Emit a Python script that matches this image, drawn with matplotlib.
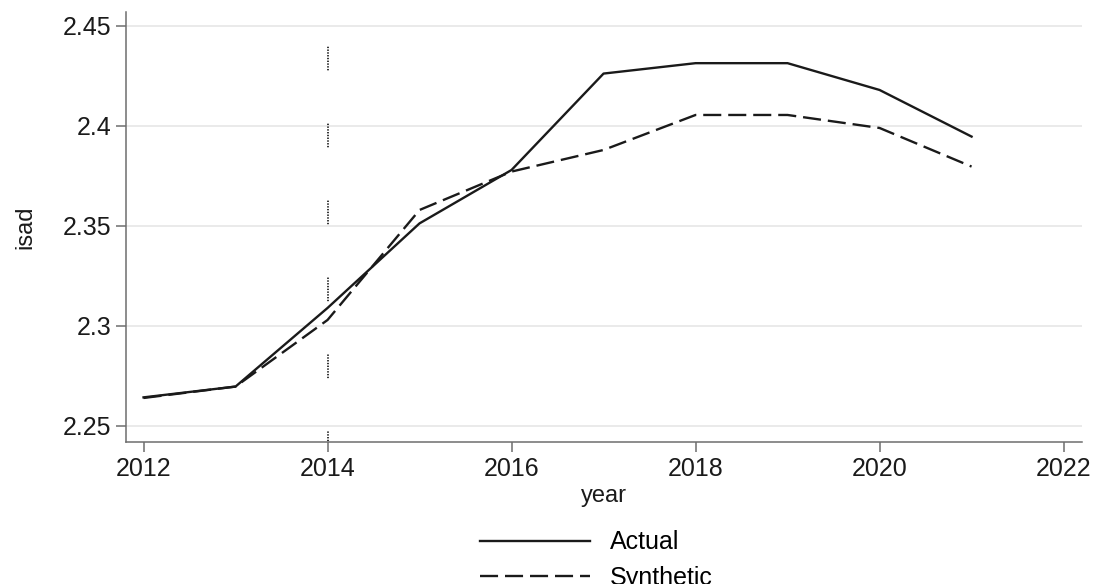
import matplotlib
matplotlib.use('Agg')
import matplotlib.pyplot as plt

plt.rcParams['font.family'] = ['Liberation Sans', 'DejaVu Sans']
plt.rcParams['lines.scale_dashes'] = False

# datos del panel
anios = [2012, 2013, 2014, 2015, 2016, 2017, 2018, 2019, 2020, 2021]
actual = [2.2643, 2.2697, 2.3090, 2.3513, 2.3780, 2.4262, 2.4314, 2.4314, 2.4180, 2.3947]
sintetico = [2.2640, 2.2697, 2.3030, 2.3580, 2.3772, 2.3880, 2.4055, 2.4055, 2.3990, 2.3797]
anio_tratamiento = 2014

xticks = [2012, 2014, 2016, 2018, 2020, 2022]
yticks = [2.25, 2.3, 2.35, 2.4, 2.45]
ytick_labels = ['2.25', '2.3', '2.35', '2.4', '2.45']

fig = plt.figure(figsize=(10.98, 5.84), dpi=100)
ax = fig.add_axes([0.1148, 0.2432, 0.8706, 0.7363])

# rejilla horizontal
for y in yticks:
    ax.axhline(y, color='#e4e4e4', lw=1.1, zorder=0)

# linea vertical punteada del tratamiento
punteado = [1, 1] * 8 + [1, 38.4]
ax.axvline(anio_tratamiento, color='#333333', lw=1.4, linestyle=(9.4, punteado), zorder=1)

ax.plot(anios, actual, color='#1a1a1a', lw=1.7, label='Actual', zorder=3)
ax.plot(anios, sintetico, color='#1a1a1a', lw=1.7, linestyle=(0, (13, 5)), label='Synthetic', zorder=3)

ax.set_xlim(2011.81, 2022.2)
ax.set_ylim(2.242, 2.457)
ax.set_xticks(xticks)
ax.set_yticks(yticks)
ax.set_yticklabels(ytick_labels)

for lado in ['top', 'right']:
    ax.spines[lado].set_visible(False)
for lado in ['left', 'bottom']:
    ax.spines[lado].set_color('#6e6e6e')
    ax.spines[lado].set_linewidth(1.1)

ax.tick_params(axis='both', labelsize=18, colors='#6e6e6e', labelcolor='#1a1a1a',
               length=7, width=1.1)
ax.tick_params(axis='x', pad=4)
ax.tick_params(axis='y', pad=3.5)

ax.set_xlabel('year', fontsize=17, color='#1a1a1a', labelpad=3)
ax.set_ylabel('isad', fontsize=17, color='#1a1a1a', labelpad=19)

handles, labels = ax.get_legend_handles_labels()
fig.legend(handles, labels, loc='upper center', bbox_to_anchor=(0.543, 0.092),
           frameon=False, fontsize=18, handlelength=4.4, handletextpad=0.8,
           labelspacing=0.45, borderaxespad=0, borderpad=0)

fig.savefig('out.png', dpi=100)
